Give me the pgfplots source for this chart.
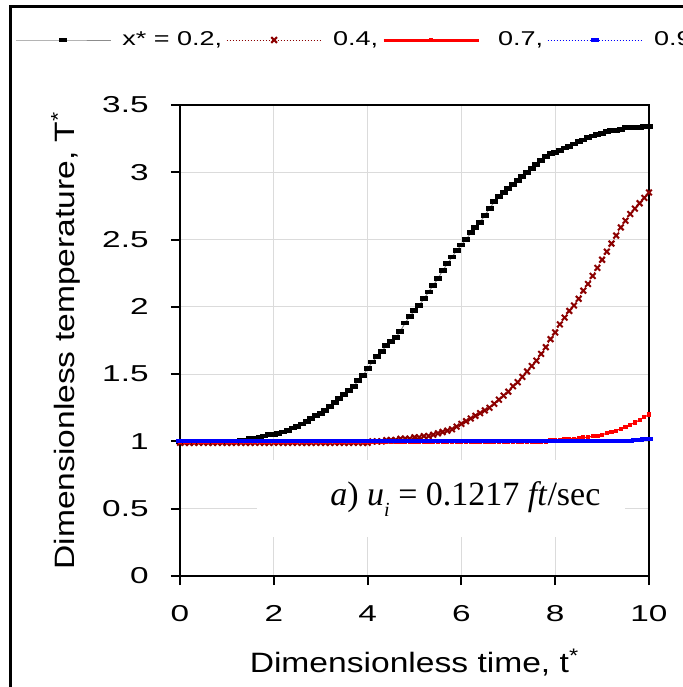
\documentclass[border=0pt]{standalone}
\usepackage{pgfplots}
\pgfplotsset{compat=1.18}
\usepackage{fontspec}
\setmainfont{Liberation Sans}[FakeStretch=1.2]
\newfontfamily\tickfont{Liberation Sans}[FakeStretch=1.45]
\newfontfamily\legfont{Liberation Sans}[FakeStretch=1.35]
\newfontfamily\serifont{Liberation Serif}
\definecolor{dred}{RGB}{140,0,0}
\begin{document}
\begin{tikzpicture}
\useasboundingbox (0pt,0pt) rectangle (341.5pt,343.5pt);
\draw[line width=1.5pt] (5pt,-2pt) -- (5pt,340pt) -- (350pt,340pt);
\begin{axis}[
  at={(90pt,55.5pt)}, anchor=south west, scale only axis,
  width=234.5pt, height=235.5pt,
  xmin=0, xmax=10, ymin=0, ymax=3.5,
  xtick={0,2,...,10}, ytick={0,0.5,...,3.5},
  /pgf/number format/assume math mode=true,
  tick align=outside, xtick pos=left, ytick pos=left,
  major tick length=4.5pt,
  tick style={black, line width=1pt},
  axis line style={line width=1pt},
  grid=major, major grid style={black!14, line width=0.5pt},
  ticklabel style={font=\tickfont\fontsize{11.5}{14}\selectfont, inner sep=0pt},
  xticklabel style={anchor=base, yshift=-18pt},
  yticklabel style={anchor=east, xshift=-11pt},
  xlabel={Dimensionless time, t\textsuperscript{*}},
  ylabel={Dimensionless temperature, T\textsuperscript{*}},
  label style={font=\fontsize{14}{16}\selectfont, inner sep=0pt},
  xlabel style={at={(axis description cs:0.5,0)}, anchor=base, yshift=-48.5pt},
  ylabel style={at={(axis description cs:-0.2239,0.5)}, anchor=base},
  legend style={at={(axis description cs:-0.352,1.138)}, anchor=west, draw=none, fill=none,
    font=\legfont\fontsize{10}{12}\selectfont, legend columns=4, inner sep=0pt,
    nodes={inner sep=0pt},
    /tikz/every even column/.append style={column sep=2pt},
    /tikz/every odd column/.append style={column sep=5.5pt}},
  legend image code/.code={\draw[mark repeat=2,mark phase=2] plot coordinates {(0pt,0pt)(23.75pt,0pt)(47.5pt,0pt)};},
]
\fill[white] (axis cs:1.64,0.29) rectangle (axis cs:9.49,0.86);
\node[anchor=base west, inner sep=0pt] at (axis cs:3.198,0.527)
  {\serifont\fontsize{17}{20}\selectfont\textit{a}) \textit{u}\raisebox{-0.35em}{\fontsize{10}{12}\selectfont\textit{i}} = 0.1217 \textit{ft}/sec};

\addplot[draw=black!45, line width=0.5pt, mark=square*, mark size=1.75pt,
  mark options={fill=black, draw=black, yscale=0.55, solid}] coordinates {
(0.0,1.00)(0.1,1.00)(0.2,1.00)(0.3,1.00)(0.4,1.00)(0.5,1.00)(0.6,1.00)(0.7,1.00)(0.8,1.00)(0.9,1.00)
(1.0,1.00)(1.1,1.00)(1.2,1.00)(1.3,1.01)(1.4,1.01)(1.5,1.02)(1.6,1.02)(1.7,1.03)(1.8,1.04)(1.9,1.05)
(2.0,1.05)(2.1,1.06)(2.2,1.07)(2.3,1.08)(2.4,1.10)(2.5,1.11)(2.6,1.13)(2.7,1.15)(2.8,1.17)(2.9,1.19)
(3.0,1.21)(3.1,1.23)(3.2,1.26)(3.3,1.29)(3.4,1.32)(3.5,1.35)(3.6,1.38)(3.7,1.41)(3.8,1.45)(3.9,1.49)
(4.0,1.54)(4.1,1.59)(4.2,1.63)(4.3,1.67)(4.4,1.71)(4.5,1.74)(4.6,1.77)(4.7,1.82)(4.8,1.88)(4.9,1.93)
(5.0,1.97)(5.1,2.01)(5.2,2.06)(5.3,2.11)(5.4,2.16)(5.5,2.21)(5.6,2.27)(5.7,2.32)(5.8,2.37)(5.9,2.42)
(6.0,2.46)(6.1,2.50)(6.2,2.55)(6.3,2.59)(6.4,2.63)(6.5,2.68)(6.6,2.73)(6.7,2.78)(6.8,2.82)(6.9,2.85)
(7.0,2.88)(7.1,2.91)(7.2,2.94)(7.3,2.97)(7.4,3.00)(7.5,3.03)(7.6,3.06)(7.7,3.09)(7.8,3.12)(7.9,3.14)
(8.0,3.15)(8.1,3.16)(8.2,3.18)(8.3,3.19)(8.4,3.21)(8.5,3.23)(8.6,3.24)(8.7,3.26)(8.8,3.27)(8.9,3.28)
(9.0,3.29)(9.1,3.30)(9.2,3.31)(9.3,3.31)(9.4,3.32)(9.5,3.33)(9.6,3.33)(9.7,3.33)(9.8,3.33)(9.9,3.34)
(10.0,3.34)};
\addlegendentry{x* = 0.2,}

\addplot[draw=dred, densely dotted, line width=0.5pt, mark=x, mark size=2pt,
  mark options={draw=dred, solid, line width=1pt}] coordinates {
(0.0,0.99)(0.1,0.99)(0.2,0.99)(0.3,0.99)(0.4,0.99)(0.5,0.99)(0.6,0.99)(0.7,0.99)(0.8,0.99)(0.9,0.99)
(1.0,0.99)(1.1,0.99)(1.2,0.99)(1.3,0.99)(1.4,0.99)(1.5,0.99)(1.6,0.99)(1.7,0.99)(1.8,0.99)(1.9,0.99)
(2.0,0.99)(2.1,0.99)(2.2,0.99)(2.3,0.99)(2.4,0.99)(2.5,0.99)(2.6,0.99)(2.7,0.99)(2.8,0.99)(2.9,0.99)
(3.0,0.99)(3.1,0.99)(3.2,0.99)(3.3,0.99)(3.4,0.99)(3.5,0.99)(3.6,0.99)(3.7,0.99)(3.8,0.99)(3.9,0.99)
(4.0,0.99)(4.1,1.00)(4.2,1.00)(4.3,1.00)(4.4,1.01)(4.5,1.01)(4.6,1.01)(4.7,1.02)(4.8,1.02)(4.9,1.02)
(5.0,1.03)(5.1,1.03)(5.2,1.04)(5.3,1.04)(5.4,1.05)(5.5,1.06)(5.6,1.07)(5.7,1.08)(5.8,1.09)(5.9,1.11)
(6.0,1.13)(6.1,1.15)(6.2,1.17)(6.3,1.19)(6.4,1.21)(6.5,1.23)(6.6,1.25)(6.7,1.28)(6.8,1.31)(6.9,1.34)
(7.0,1.37)(7.1,1.41)(7.2,1.44)(7.3,1.48)(7.4,1.52)(7.5,1.56)(7.6,1.60)(7.7,1.65)(7.8,1.70)(7.9,1.76)
(8.0,1.81)(8.1,1.87)(8.2,1.92)(8.3,1.97)(8.4,2.01)(8.5,2.06)(8.6,2.12)(8.7,2.17)(8.8,2.23)(8.9,2.29)
(9.0,2.35)(9.1,2.41)(9.2,2.47)(9.3,2.53)(9.4,2.59)(9.5,2.64)(9.6,2.69)(9.7,2.73)(9.8,2.77)(9.9,2.81)
(10.0,2.85)};
\addlegendentry{0.4,}

\addplot[draw=red, line width=0.5pt, mark=square*, mark size=0.8pt,
  mark options={fill=red, draw=red, solid},
  legend image code/.code={\draw[line width=1.5pt] (0pt,0pt) -- (47.5pt,0pt);
    \draw[mark repeat=2,mark phase=2] plot coordinates {(0pt,0pt)(23.75pt,0pt)(47.5pt,0pt)};}] coordinates {
(0.0,1.00)(0.1,1.00)(0.2,1.00)(0.3,1.00)(0.4,1.00)(0.5,1.00)(0.6,1.00)(0.7,1.00)(0.8,1.00)(0.9,1.00)
(1.0,1.00)(1.1,1.00)(1.2,1.00)(1.3,1.00)(1.4,1.00)(1.5,1.00)(1.6,1.00)(1.7,1.00)(1.8,1.00)(1.9,1.00)
(2.0,1.00)(2.1,1.00)(2.2,1.00)(2.3,1.00)(2.4,1.00)(2.5,1.00)(2.6,1.00)(2.7,1.00)(2.8,1.00)(2.9,1.00)
(3.0,1.00)(3.1,1.00)(3.2,1.00)(3.3,1.00)(3.4,1.00)(3.5,1.00)(3.6,1.00)(3.7,1.00)(3.8,1.00)(3.9,1.00)
(4.0,1.00)(4.1,1.00)(4.2,1.00)(4.3,1.00)(4.4,1.00)(4.5,1.00)(4.6,1.00)(4.7,1.00)(4.8,1.00)(4.9,1.00)
(5.0,1.00)(5.1,1.00)(5.2,1.00)(5.3,1.00)(5.4,1.00)(5.5,1.00)(5.6,1.00)(5.7,1.00)(5.8,1.00)(5.9,1.00)
(6.0,1.00)(6.1,1.00)(6.2,1.00)(6.3,1.00)(6.4,1.00)(6.5,1.00)(6.6,1.00)(6.7,1.00)(6.8,1.00)(6.9,1.00)
(7.0,1.00)(7.1,1.00)(7.2,1.00)(7.3,1.00)(7.4,1.00)(7.5,1.00)(7.6,1.00)(7.7,1.00)(7.8,1.00)(7.9,1.01)
(8.0,1.01)(8.1,1.01)(8.2,1.02)(8.3,1.02)(8.4,1.02)(8.5,1.025)(8.6,1.03)(8.7,1.03)(8.8,1.04)(8.9,1.04)
(9.0,1.05)(9.1,1.06)(9.2,1.07)(9.3,1.08)(9.4,1.095)(9.5,1.11)(9.6,1.125)(9.7,1.14)(9.8,1.16)(9.9,1.18)
(10.0,1.20)};
\addlegendentry{\hspace{3.5pt}0.7,}

\addplot[draw=blue, densely dotted, line width=0.5pt, mark=square*, mark size=1.7pt,
  mark options={fill=blue, draw=blue, solid, yscale=0.45}] coordinates {
(0.0,1.00)(0.1,1.00)(0.2,1.00)(0.3,1.00)(0.4,1.00)(0.5,1.00)(0.6,1.00)(0.7,1.00)(0.8,1.00)(0.9,1.00)
(1.0,1.00)(1.1,1.00)(1.2,1.00)(1.3,1.00)(1.4,1.00)(1.5,1.00)(1.6,1.00)(1.7,1.00)(1.8,1.00)(1.9,1.00)
(2.0,1.00)(2.1,1.00)(2.2,1.00)(2.3,1.00)(2.4,1.00)(2.5,1.00)(2.6,1.00)(2.7,1.00)(2.8,1.00)(2.9,1.00)
(3.0,1.00)(3.1,1.00)(3.2,1.00)(3.3,1.00)(3.4,1.00)(3.5,1.00)(3.6,1.00)(3.7,1.00)(3.8,1.00)(3.9,1.00)
(4.0,1.00)(4.1,1.00)(4.2,1.00)(4.3,1.00)(4.4,1.00)(4.5,1.00)(4.6,1.00)(4.7,1.00)(4.8,1.00)(4.9,1.00)
(5.0,1.00)(5.1,1.00)(5.2,1.00)(5.3,1.00)(5.4,1.00)(5.5,1.00)(5.6,1.00)(5.7,1.00)(5.8,1.00)(5.9,1.00)
(6.0,1.00)(6.1,1.00)(6.2,1.00)(6.3,1.00)(6.4,1.00)(6.5,1.00)(6.6,1.00)(6.7,1.00)(6.8,1.00)(6.9,1.00)
(7.0,1.00)(7.1,1.00)(7.2,1.00)(7.3,1.00)(7.4,1.00)(7.5,1.00)(7.6,1.00)(7.7,1.00)(7.8,1.00)(7.9,1.00)
(8.0,1.00)(8.1,1.00)(8.2,1.00)(8.3,1.00)(8.4,1.00)(8.5,1.00)(8.6,1.00)(8.7,1.00)(8.8,1.00)(8.9,1.00)
(9.0,1.00)(9.1,1.00)(9.2,1.00)(9.3,1.00)(9.4,1.00)(9.5,1.00)(9.6,1.005)(9.7,1.01)(9.8,1.01)(9.9,1.015)
(10.0,1.02)};
\addlegendentry{0.9}
\end{axis}
\end{tikzpicture}
\end{document}
